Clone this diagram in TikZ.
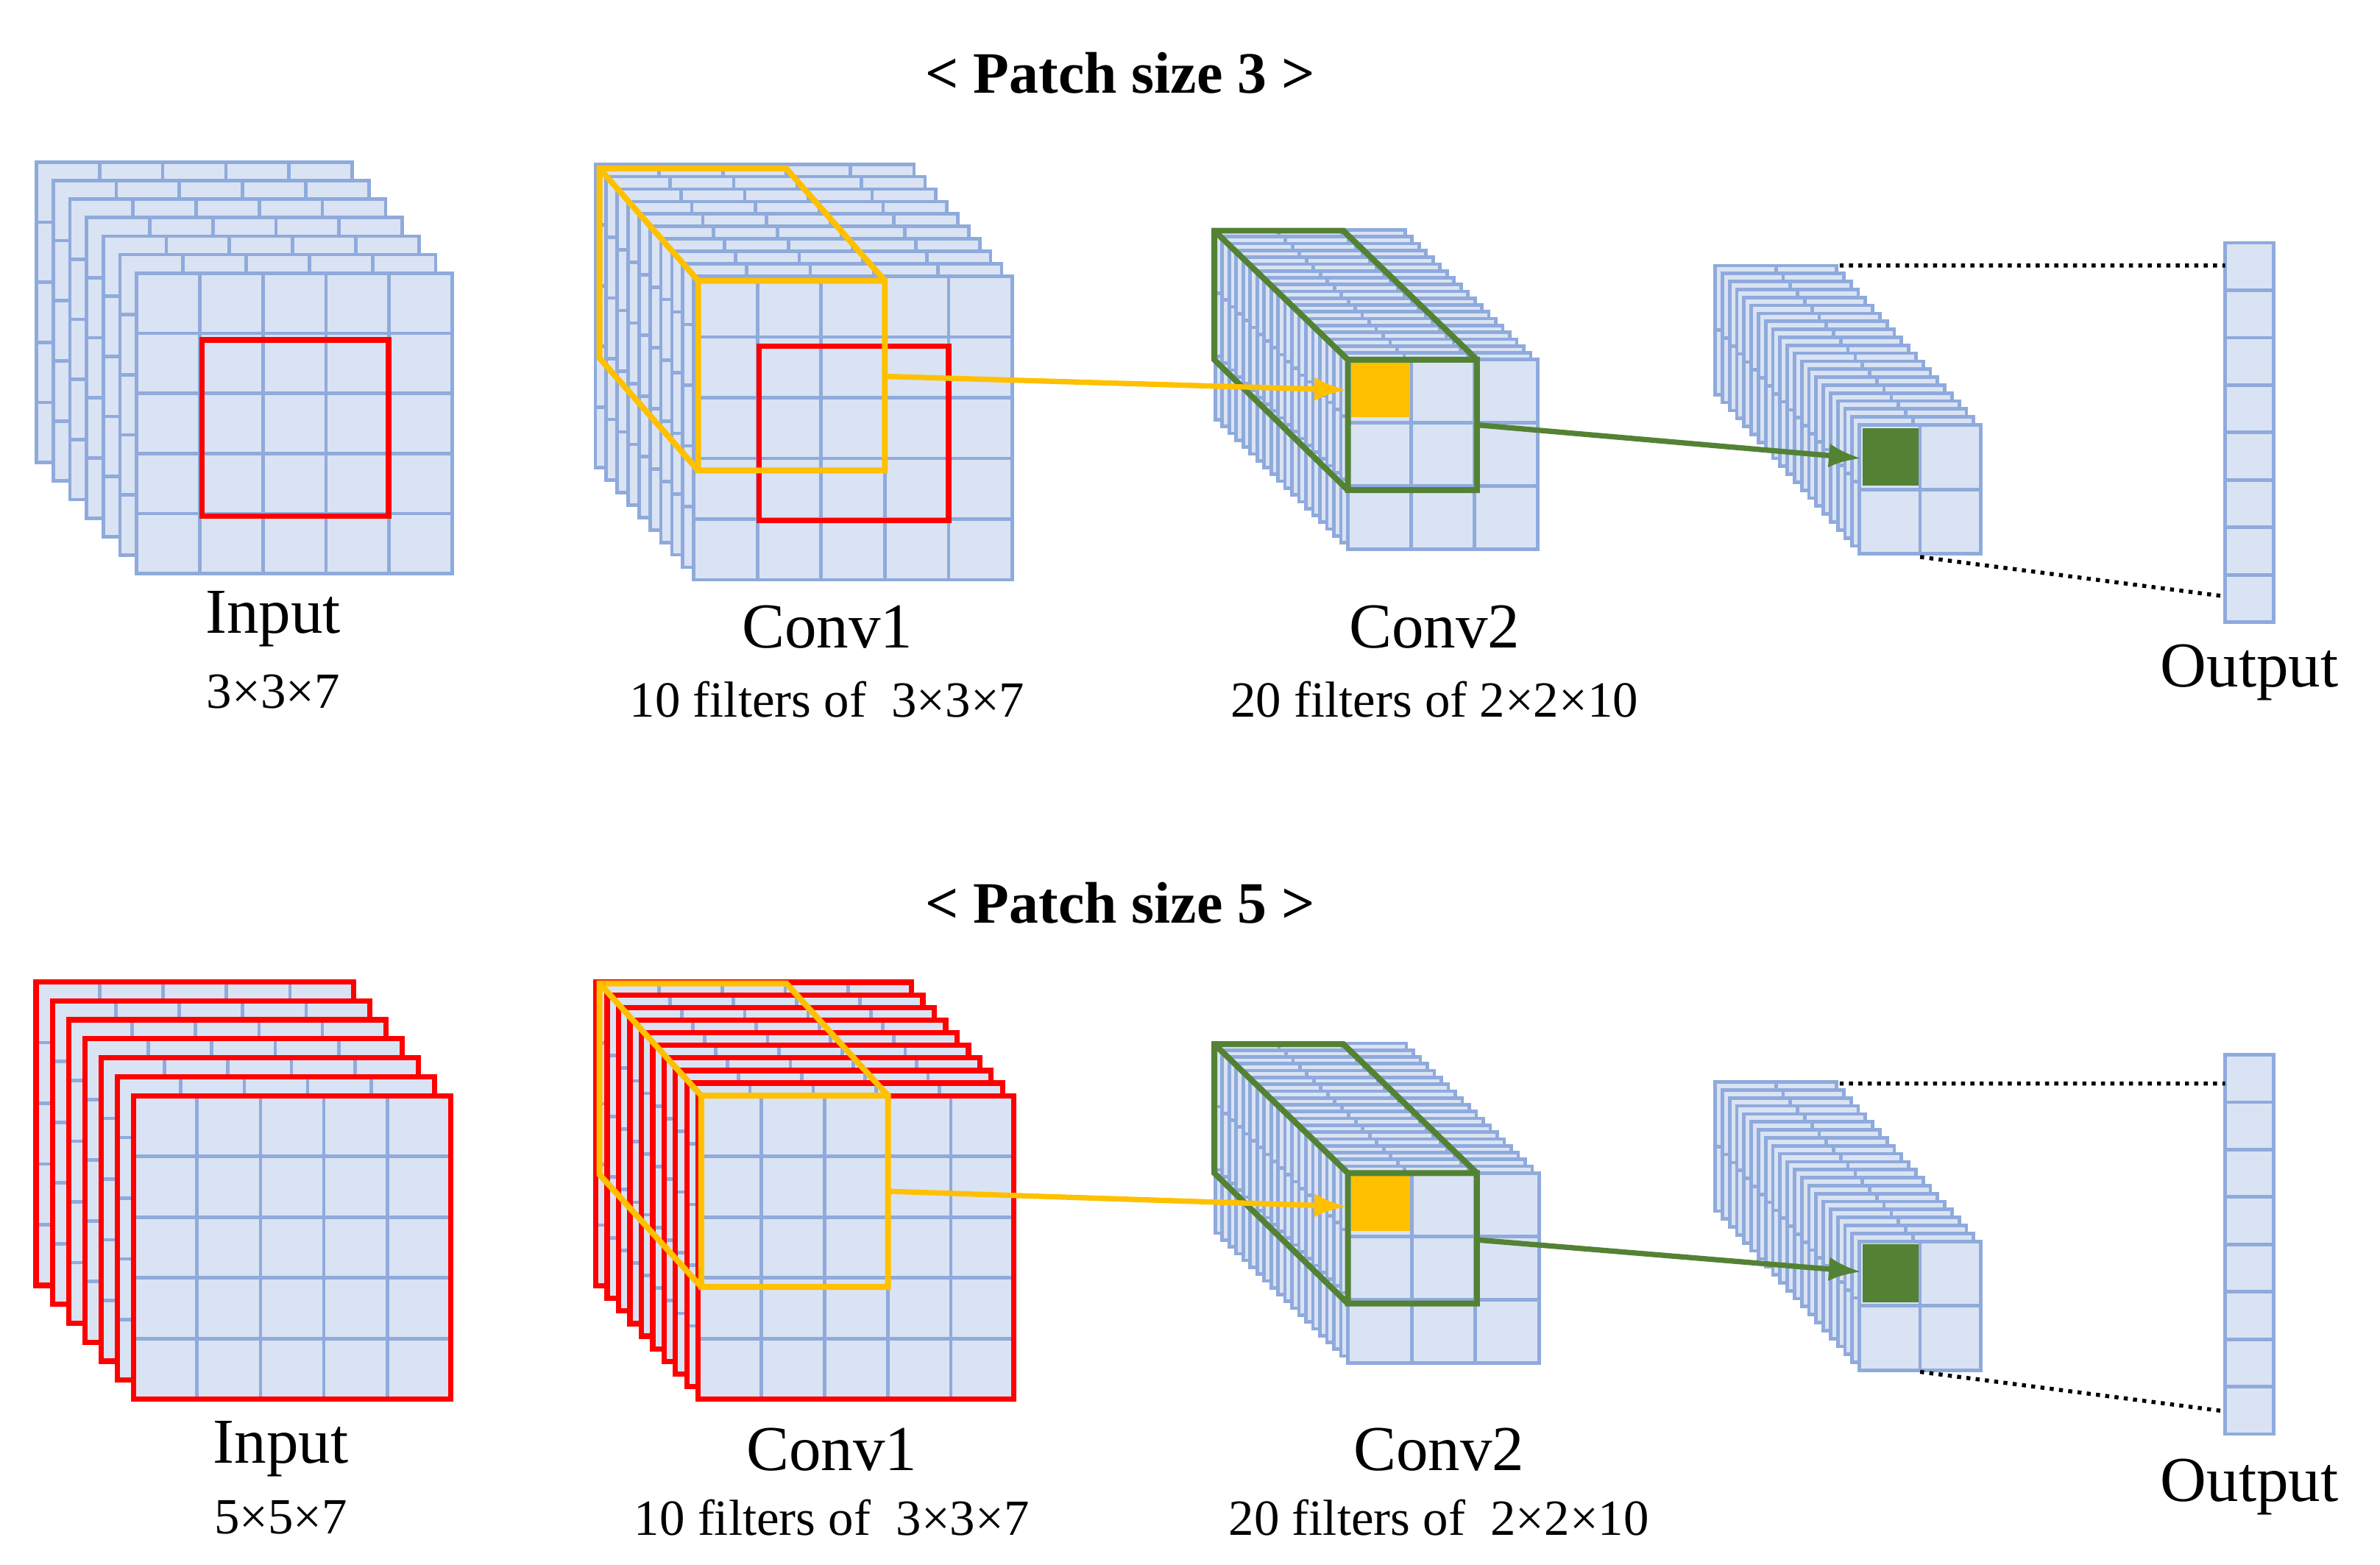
\documentclass[tikz,border=0pt]{standalone}
\usepackage{fontspec}
\setmainfont{Liberation Serif}
\usetikzlibrary{arrows.meta}
\begin{document}
\begin{tikzpicture}[x=0.02cm,y=-0.02cm,line join=miter]
\definecolor{cf}{HTML}{DAE3F3}\definecolor{cl}{HTML}{8FAADC}
\definecolor{yel}{HTML}{FFC000}\definecolor{grn}{HTML}{548235}\definecolor{rd}{HTML}{FF0000}
\tikzset{cl/.style={draw=cl,line width=1.3pt},bord/.style={draw=cl,line width=1.3pt},
 lbl/.style={font=\fontsize{24}{28}\selectfont,inner sep=0pt},
 sub/.style={font=\fontsize{19}{22}\selectfont,inner sep=0pt},
 ttl/.style={font=\bfseries\fontsize{22}{26}\selectfont,inner sep=0pt},
 cube/.style={line width=2.2pt},
 arr/.style={line width=2pt,-{Latex[length=12pt,width=9pt]}},
 dot/.style={dotted,line width=1.5pt}}
\useasboundingbox (0,0) rectangle (1568,1031);
\newcommand\lay[6]{%
 \fill[cf] ({#1},{#2}) rectangle ({#1+#3*#5},{#2+#4*#6});
 \foreach \k in {0,...,#3}{\draw[cl] ({#1+\k*#5},{#2}) -- ({#1+\k*#5},{#2+#4*#6});}
 \foreach \k in {0,...,#4}{\draw[cl] ({#1},{#2+\k*#6}) -- ({#1+#3*#5},{#2+\k*#6});}
 \draw[bord] ({#1},{#2}) rectangle ({#1+#3*#5},{#2+#4*#6});}
\newcommand\stk[9]{\foreach \i in {#7,...,0}{\lay{#1-\i*#8}{#2-\i*#9}{#3}{#4}{#5}{#6}}}
% ================= TOP =================
\node[ttl] (t1) at (738,48) {< Patch size 3 >};
\stk{90}{180}{5}{5}{41.6}{39.6}{6}{11}{12.2}
\draw[rd,line width=2pt] (133,224) rectangle (256,340);
\node[lbl] (in1) at (180,408) {Input};
\node[sub] (in1s) at (180,456) {3×3×7};
% conv1
\stk{457}{182}{5}{5}{42}{40}{9}{7.2}{8.2}
\draw[rd,line width=2pt] (500,228) rectangle (625,343);
\draw[yel,cube] (460,185) rectangle (583,310)
 (460,310)--(395,236)--(395,111)--(518,111)--(583,185) (395,111)--(460,185);
\node[lbl] (c11) at (545,413) {Conv1};
\node[sub] (c11s) at (545,461) {10 filters of~~3×3×7};
% conv2
\stk{888}{237}{3}{3}{41.7}{41.7}{19}{4.6}{4.5}
\fill[yel] (890,239) rectangle (929,275);
\draw[grn,cube] (888,237) rectangle (973,323)
 (888,323)--(800,237)--(800,152)--(885,152)--(973,237) (800,152)--(888,237);
\node[lbl] (c21) at (945,413) {Conv2};
\node[sub] (c21s) at (945,461) {20 filters of 2×2×10};
% conv3
\stk{1225}{280}{2}{2}{40}{42.5}{20}{4.75}{5.25}
\fill[grn] (1227,282) rectangle (1264,320);
% output
\lay{1466}{160}{1}{8}{32}{31.25}
\node[lbl] (o1) at (1482,443) {Output};
\coordinate (ya1) at (583,248); \coordinate (yb1) at (887,257);
\coordinate (ga1) at (973,280); \coordinate (gb1) at (1226,302);
\draw[arr,yel] (ya1) -- (yb1); \draw[arr,grn] (ga1) -- (gb1);
\coordinate (d1a) at (1212,175); \coordinate (d1b) at (1466,175);
\coordinate (d2a) at (1265,367); \coordinate (d2b) at (1466,393);
\draw[dot] (d1a)--(d1b) (d2a)--(d2b);
% ================= BOTTOM =================
\node[ttl] (t2) at (738,595) {< Patch size 5 >};
\tikzset{bord/.style={draw=rd,line width=2pt}}
\stk{88}{722}{5}{5}{41.8}{40}{6}{10.7}{12.5}
\node[lbl] (in2) at (185,955) {Input};
\node[sub] (in2s) at (185,1000) {5×5×7};
\stk{460}{722}{5}{5}{41.6}{40}{9}{7.5}{8.3}
\tikzset{bord/.style={draw=cl,line width=1.3pt}}
\draw[yel,cube] (462,722) rectangle (585,848)
 (462,848)--(395,774)--(395,648)--(518,648)--(585,722) (395,648)--(462,722);
\node[lbl] (c12) at (548,955) {Conv1};
\node[sub] (c12s) at (548,1000) {10 filters of~~3×3×7};
\stk{888}{773}{3}{3}{42}{41.7}{19}{4.6}{4.5}
\fill[yel] (890,775) rectangle (929,811);
\draw[grn,cube] (888,773) rectangle (973,859)
 (888,859)--(800,773)--(800,688)--(885,688)--(973,773) (800,688)--(888,773);
\node[lbl] (c22) at (948,955) {Conv2};
\node[sub] (c22s) at (948,1000) {20 filters of~~2×2×10};
\stk{1225}{818}{2}{2}{40}{42.5}{20}{4.75}{5.25}
\fill[grn] (1227,820) rectangle (1264,858);
\lay{1466}{695}{1}{8}{32}{31.25}
\node[lbl] (o2) at (1482,980) {Output};
\coordinate (ya2) at (585,785); \coordinate (yb2) at (887,795);
\coordinate (ga2) at (973,817); \coordinate (gb2) at (1226,838);
\draw[arr,yel] (ya2) -- (yb2); \draw[arr,grn] (ga2) -- (gb2);
\coordinate (d3a) at (1212,714); \coordinate (d3b) at (1466,714);
\coordinate (d4a) at (1265,904); \coordinate (d4b) at (1466,930);
\draw[dot] (d3a)--(d3b) (d4a)--(d4b);
\end{tikzpicture}
\end{document}
